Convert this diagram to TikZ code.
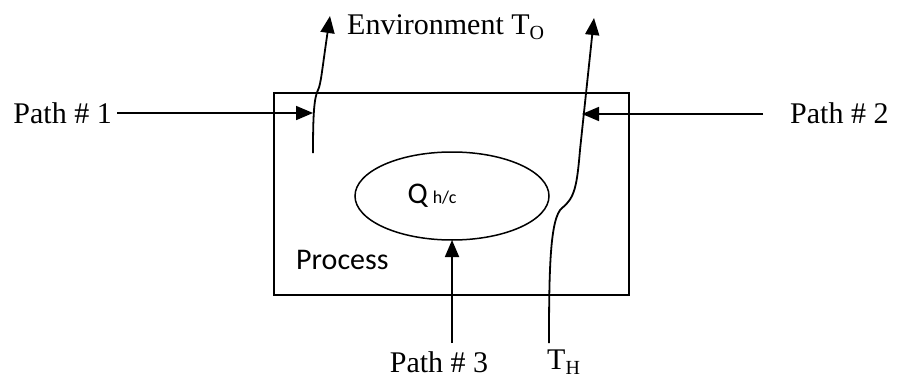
\documentclass[tikz,border=0pt]{standalone}
\usepackage{fontspec}
\setmainfont{Liberation Serif}
\newfontfamily\calib{Carlito}
\usetikzlibrary{arrows.meta}
\begin{document}
\begin{tikzpicture}[x=1pt,y=-1pt,
  arr/.style={line width=1.8pt,-{Triangle[length=17pt,width=14pt]}},
  serif/.style={font=\fontsize{30}{32}\selectfont,inner sep=0pt},
  sans/.style={font=\calib\fontsize{30}{32}\selectfont,inner sep=0pt}]
\useasboundingbox (0,0) rectangle (897,380);
% process box
\node[draw,line width=1.5pt,minimum width=355pt,minimum height=202pt,inner sep=0pt] (box) at (451.5,194) {};
% heat ellipse
\draw[line width=1.5pt] (452,196) ellipse [x radius=97, y radius=44];
\coordinate (ellb) at (452,240);
\node[sans] (q) at (432,196) {Q\,{\fontsize{18}{20}\selectfont h/c}};
\node[sans,anchor=west] (proc) at (296,260) {Process};
% labels
\node[serif,anchor=east] (p1) at (112,113) {Path \# 1};
\node[serif,anchor=west] (p2) at (790,113) {Path \# 2};
\node[serif] (p3) at (439,362) {Path \# 3};
\node[serif,anchor=west] (th) at (547,362) {T\textsubscript{\fontsize{20}{22}\selectfont H}};
\node[serif,anchor=west] (env) at (347,27) {Environment T\textsubscript{\fontsize{20}{22}\selectfont O}};
% connector endpoints
\coordinate (a1) at (313,113);
\coordinate (a2) at (582,114);
\coordinate (c1s) at (313,153);
\coordinate (c1e) at (330,16);
\coordinate (c2s) at (549,343);
\coordinate (c2e) at (594,18);
\coordinate (p3s) at (452,343);
\coordinate (p2s) at (763,114);
% arrows
\draw[arr] ([xshift=5pt]p1.east) -- (a1);
\draw[arr] (p2s) -- (a2);
\draw[arr] (p3s) -- (ellb);
\draw[arr] (c1s) .. controls (313,115) and (314,98) .. (318,90)
  .. controls (321,84) and (322,70) .. (c1e);
\draw[arr] (c2s) .. controls (549,270) and (550,218) .. (562,208)
  .. controls (575,198) and (577,185) .. (580,150) -- (c2e);
\end{tikzpicture}
\end{document}
